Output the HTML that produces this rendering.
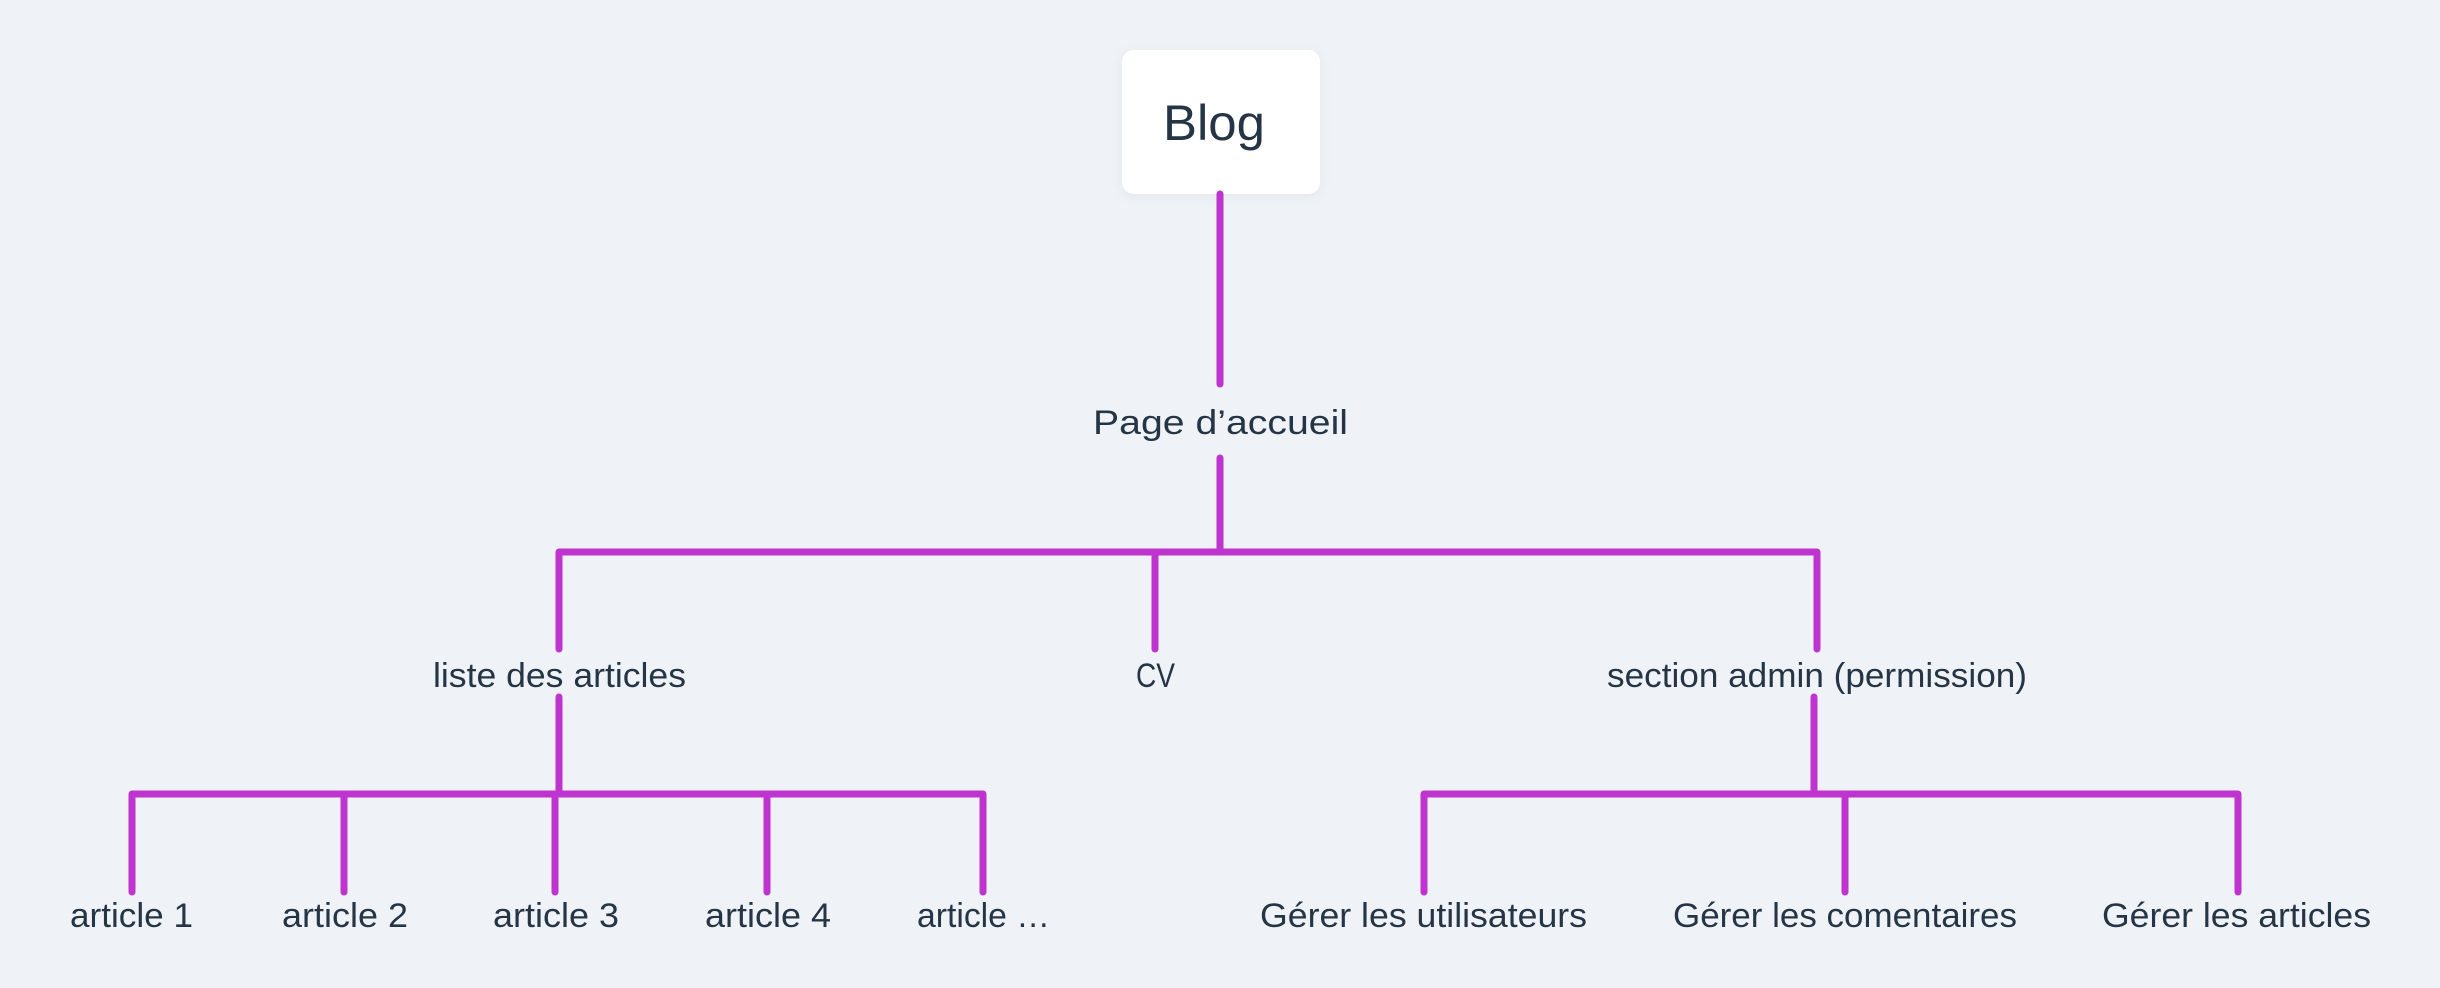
<!DOCTYPE html>
<html><head><meta charset="utf-8"><style>
html,body{margin:0;padding:0;background:#eff3f7;}
svg{display:block;}
text{font-family:"Liberation Sans",sans-serif;fill:#253545;}
</style></head><body>
<svg width="2440" height="988" viewBox="0 0 2440 988" xmlns="http://www.w3.org/2000/svg">
<rect width="2440" height="988" fill="#eff3f7"/>
<rect x="1122" y="50" width="198" height="144" rx="12" fill="#ffffff" style="filter:drop-shadow(0 2px 6px rgba(0,0,0,0.05))"/>
<text x="1214" y="140" font-size="50" text-anchor="middle" textLength="102" lengthAdjust="spacingAndGlyphs">Blog</text>
<g stroke="#bf33cf" stroke-width="7" stroke-linecap="round" fill="none" stroke-linejoin="round">
<line x1="1220" y1="194" x2="1220" y2="384"/>
<line x1="1220" y1="458" x2="1220" y2="552"/>
<polyline points="559,649 559,552 1817,552 1817,649"/>
<line x1="1155" y1="552" x2="1155" y2="649"/>
<line x1="559" y1="697" x2="559" y2="794"/>
<polyline points="132,892 132,794 983,794 983,892"/>
<line x1="344" y1="794" x2="344" y2="892"/>
<line x1="555" y1="794" x2="555" y2="892"/>
<line x1="767" y1="794" x2="767" y2="892"/>
<line x1="1814" y1="697" x2="1814" y2="794"/>
<polyline points="1424,892 1424,794 2238,794 2238,892"/>
<line x1="1845" y1="794" x2="1845" y2="892"/>
</g>
<g font-size="34">
<text x="1093" y="434" textLength="255" lengthAdjust="spacingAndGlyphs">Page d’accueil</text>
<text x="433" y="687" textLength="253" lengthAdjust="spacingAndGlyphs">liste des articles</text>
<text x="1136" y="687" textLength="39" lengthAdjust="spacingAndGlyphs">CV</text>
<text x="1607" y="687" textLength="420" lengthAdjust="spacingAndGlyphs">section admin (permission)</text>
<text x="70" y="927" textLength="123" lengthAdjust="spacingAndGlyphs">article 1</text>
<text x="282" y="927" textLength="126" lengthAdjust="spacingAndGlyphs">article 2</text>
<text x="493" y="927" textLength="126" lengthAdjust="spacingAndGlyphs">article 3</text>
<text x="705" y="927" textLength="126" lengthAdjust="spacingAndGlyphs">article 4</text>
<text x="917" y="927" textLength="133" lengthAdjust="spacingAndGlyphs">article …</text>
<text x="1260" y="927" textLength="327" lengthAdjust="spacingAndGlyphs">Gérer les utilisateurs</text>
<text x="1673" y="927" textLength="344" lengthAdjust="spacingAndGlyphs">Gérer les comentaires</text>
<text x="2102" y="927" textLength="269" lengthAdjust="spacingAndGlyphs">Gérer les articles</text>
</g>
</svg>
</body></html>
